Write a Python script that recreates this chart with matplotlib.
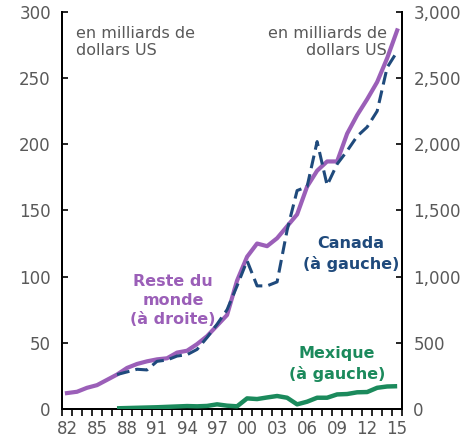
import matplotlib.pyplot as plt
from matplotlib.ticker import FixedLocator, FuncFormatter

# years 1982-2015
years_rdm = list(range(1982, 2016))
years_can = list(range(1987, 2016))

# Reste du monde, right axis (milliards $ US)
reste_monde = [120, 130, 160, 180, 220, 260, 310, 340, 360, 375, 383, 426, 440,
               490, 550, 630, 710, 970, 1150, 1250, 1230, 1290, 1380, 1470, 1680,
               1800, 1870, 1870, 2080, 2220, 2340, 2470, 2650, 2860]

# Canada, left axis
canada = [26, 28, 30, 29.5, 36, 37, 40, 41, 45, 54, 64, 75, 93, 112, 93, 93, 96,
          135, 165, 168, 202, 169, 185, 195, 206, 213, 225, 258, 270]

# Mexique, left axis
mexique = [0.5, 0.7, 0.9, 1.1, 1.3, 1.6, 1.9, 2.2, 2.0, 2.3, 3.5, 2.5, 2.0, 8,
           7.5, 8.7, 9.8, 8.5, 3.5, 5.5, 8.5, 8.5, 11, 11.3, 12.6, 12.8, 16, 17, 17.2]

purple = '#9B5FB8'
navy = '#1F4A7C'
green = '#1B8A5C'
grey = '#595959'

fig = plt.figure(figsize=(4.66, 4.4), dpi=100)
ax = fig.add_axes([0.133, 0.0705, 0.73, 0.9025])
ax2 = ax.twinx()

ax.plot(years_can, mexique, color=green, lw=3.2, solid_capstyle='butt', zorder=3)
ax.plot(years_can, canada, color=navy, lw=2.2, dashes=(4.2, 2.0), zorder=4)
ax2.plot(years_rdm, reste_monde, color=purple, lw=3.0, zorder=2)

ax.set_zorder(ax2.get_zorder() + 1)
ax.patch.set_visible(False)

ax.set_xlim(1981.5, 2015.5)
ax.set_ylim(0, 300)
ax2.set_ylim(0, 3000)

ax.set_yticks([0, 50, 100, 150, 200, 250, 300])
ax2.set_yticks([0, 500, 1000, 1500, 2000, 2500, 3000])
ax2.yaxis.set_major_formatter(FuncFormatter(lambda v, p: f'{int(v):,}'))

ax.xaxis.set_major_locator(FixedLocator(list(range(1982, 2016, 3))))
ax.xaxis.set_major_formatter(FuncFormatter(lambda v, p: f'{int(v) % 100:02d}'))
ax.xaxis.set_minor_locator(FixedLocator([y + 0.5 for y in range(1981, 2016)]))
ax.tick_params(axis='x', which='major', length=0, pad=8, labelsize=12, labelcolor=grey)
ax.tick_params(axis='x', which='minor', length=5, width=1.2, direction='out')
ax.tick_params(axis='y', direction='in', length=4, width=1.2, labelsize=12,
               labelcolor=grey, pad=8)
ax2.tick_params(axis='y', direction='in', length=4, width=1.2, labelsize=12,
                labelcolor=grey, pad=8)

for a in (ax, ax2):
    a.spines['top'].set_visible(False)
    for s in ('left', 'right', 'bottom'):
        a.spines[s].set_linewidth(1.4)

ax.text(0.04, 0.965, 'en milliards de\ndollars US', transform=ax.transAxes,
        ha='left', va='top', fontsize=11.5, color=grey, linespacing=1.2)
ax.text(0.955, 0.965, 'en milliards de\ndollars US', transform=ax.transAxes,
        ha='right', va='top', fontsize=11.5, color=grey, linespacing=1.2, zorder=1)

ax.text(2010.4, 117, 'Canada\n(à gauche)', ha='center', va='center', fontsize=11.5,
        fontweight='bold', color=navy, linespacing=1.35)
ax.text(1992.6, 82, 'Reste du\nmonde\n(à droite)', ha='center', va='center',
        fontsize=11.5, fontweight='bold', color=purple, linespacing=1.35)
ax.text(2009, 34, 'Mexique\n(à gauche)', ha='center', va='center', fontsize=11.5,
        fontweight='bold', color=green, linespacing=1.35)

fig.savefig('out.png', dpi=100)
